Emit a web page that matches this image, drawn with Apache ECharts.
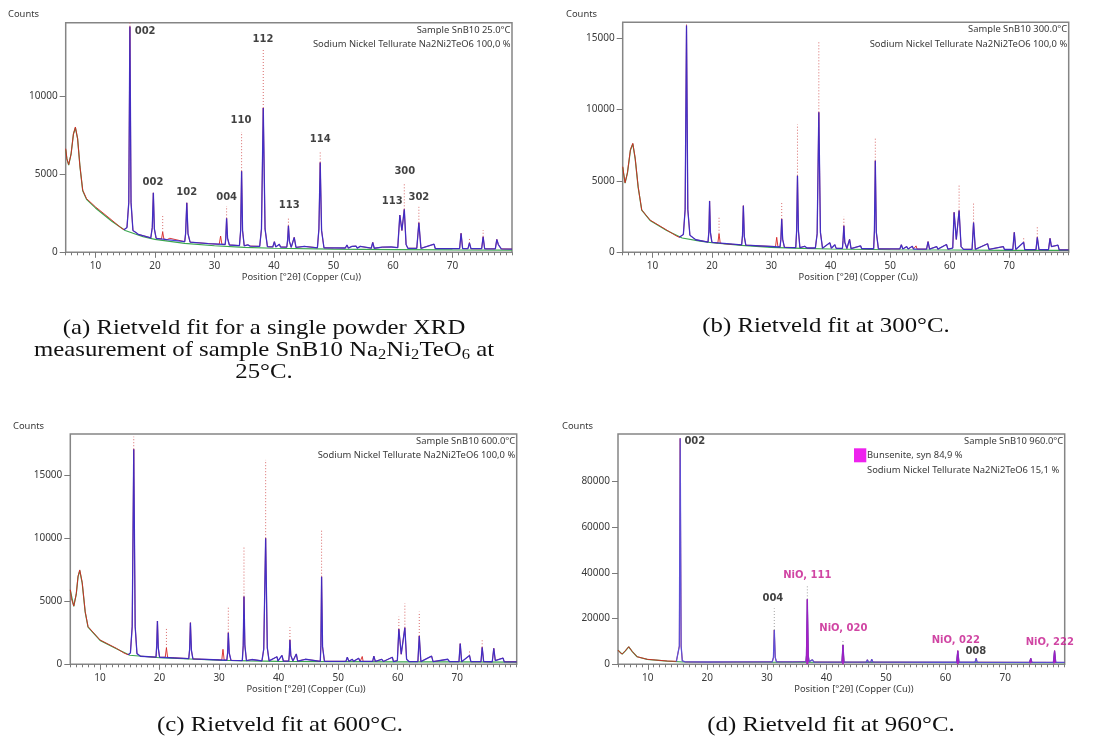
<!DOCTYPE html>
<html>
<head>
<meta charset="utf-8">
<script src="https://cdn.jsdelivr.net/npm/echarts@6/dist/echarts.min.js"></script>
<style>
html, body { margin: 0; padding: 0; background: #fff; }
#c { width: 1102px; height: 748px; }
</style>
</head>
<body>
<div id="c"></div>
<script>
// ---- axis ticks ----
const xTicks = [10, 20, 30, 40, 50, 60, 70];
const yTicksA = [0, 5000, 10000];
const yTicksB = [0, 5000, 10000, 15000];
const yTicksC = [0, 5000, 10000, 15000];
const yTicksD = [0, 20000, 40000, 60000, 80000];

// ---- (a) 25 °C ----
const bgA = [[5,6600],[5.2,6000],[5.5,5600],[5.9,6300],[6.3,7600],[6.63,8000],[7.0,7300],[7.4,5500],[7.86,3950],[8.5,3400],[10,2850],[12.75,2000],[15,1400],[18,1000],[20,830],[25,570],[30,420],[35,320],[40,260],[50,200],[60,170],[70,150],[80,140]];
const lowA = [[5,6660],[5.2,6000],[5.5,5640],[5.9,6300],[6.3,7600],[6.63,8050],[7.0,7300],[7.4,5500],[7.86,3990],[8.5,3450],[10,2920],[12.75,2070],[14.2,1600]];
const calcA = [[14.8,1450],[15.3,1600],[15.6,3200],[15.79,14500],[15.98,3200],[16.3,1400],[16.86,1250],[17.2,1150],[19.3,930],[19.55,1600],[19.73,3820],[19.9,1500],[20.2,900],[22.0,810],[25.0,680],[25.15,1200],[25.35,3180],[25.55,1200],[25.9,650],[29,560],[31.8,500],[31.9,900],[32.04,2180],[32.2,900],[32.5,470],[34.2,430],[34.4,1400],[34.56,5210],[34.72,1400],[35.0,420],[35.6,480],[36.0,400],[37.6,380],[37.9,1500],[38.2,9270],[38.5,1500],[38.9,360],[39.8,350],[40.07,680],[40.3,345],[40.9,520],[41.1,340],[42.15,330],[42.3,800],[42.43,1710],[42.6,700],[42.9,320],[43.4,960],[43.7,310],[45.1,380],[45.3,300],[47.3,290],[47.55,1500],[47.77,5770],[48.0,1400],[48.4,290],[52.0,275],[52.26,470],[52.5,272],[53.1,380],[53.3,270],[53.8,400],[54.0,268],[54.5,380],[54.7,265],[56.35,262],[56.6,640],[56.85,260],[58.2,330],[58.4,255],[59.7,340],[59.9,250],[60.8,300],[61.15,2390],[61.5,1400],[61.9,2760],[62.2,500],[62.5,260],[64.0,258],[64.35,1900],[64.7,255],[66.9,520],[67.1,245],[71.2,240],[71.44,1220],[71.7,238],[72.6,235],[72.85,600],[73.1,232],[74.9,230],[75.15,1000],[75.4,228],[77.2,225],[77.45,830],[77.7,500],[77.9,600],[78.2,220],[80,210]];
const extraA = [[21.1,860],[21.3,1300],[21.5,850],[22.3,800],[22.5,900],[22.7,790],[30.8,515],[31.03,1045],[31.25,510]];
const topsA = [[15.79,14500,14750],[21.3,1300,2330],[32.04,2180,2970],[34.56,5210,7730],[38.2,9270,13010],[42.43,1710,2180],[47.77,5770,6450],[61.9,2760,4460],[64.35,1900,2920],[72.85,600,960],[75.15,1000,1430]];
const labelsA = [[18.35,14180,'002'],[19.66,4500,'002'],[25.35,3860,'102'],[32.04,3510,'004'],[34.45,8460,'110'],[38.16,13690,'112'],[42.55,3040,'113'],[47.77,7260,'114'],[59.86,3250,'113'],[61.99,5180,'300'],[64.35,3510,'302']];

// ---- (b) 300 °C ----
const bgB = [[5,5950],[5.4,4850],[5.8,5550],[6.3,7150],[6.7,7600],[7.1,6550],[7.6,4550],[8.2,2950],[9.6,2230],[12.4,1530],[15,1000],[18,780],[20,670],[25,480],[30,350],[35,280],[40,230],[50,180],[60,160],[70,140],[80,130]];
const lowB = [[5,6000],[5.2,5400],[5.4,4880],[5.8,5600],[6.3,7200],[6.7,7640],[7.1,6600],[7.6,4600],[8.2,2970],[9.6,2260],[12.4,1560],[14.0,1150]];
const calcB = [[14.5,1050],[15.2,1250],[15.5,3000],[15.73,15900],[15.95,3000],[16.3,1200],[16.9,1000],[17.3,880],[19.35,720],[19.5,1500],[19.61,3600],[19.75,1400],[20.0,700],[25.0,520],[25.15,1200],[25.29,3270],[25.45,1100],[25.7,500],[31.45,370],[31.6,900],[31.74,2330],[31.9,900],[32.2,350],[34.1,330],[34.25,1500],[34.39,5370],[34.55,1500],[34.8,320],[35.6,420],[36,300],[37.4,300],[37.7,1300],[37.98,9810],[38.25,1400],[38.6,290],[39.83,670],[40.1,280],[40.67,530],[40.9,275],[41.95,270],[42.05,800],[42.19,1860],[42.35,700],[42.7,265],[43.15,910],[43.4,260],[45.0,450],[45.2,255],[47.2,250],[47.33,1500],[47.48,6420],[47.65,1400],[48.0,245],[51.6,235],[51.86,530],[52.1,235],[52.76,400],[53.0,232],[53.7,420],[53.9,230],[56.1,225],[56.35,750],[56.6,225],[57.8,400],[58.0,220],[59.45,550],[59.7,215],[60.5,300],[60.73,2800],[61.1,900],[61.57,2920],[61.9,400],[62.3,210],[63.75,210],[64.0,2080],[64.3,210],[66.36,600],[66.6,205],[69.0,400],[69.2,195],[70.6,195],[70.85,1400],[71.1,195],[72.43,700],[72.6,190],[74.5,185],[74.72,1050],[75.0,185],[76.6,180],[76.86,980],[77.1,400],[78.2,500],[78.4,175],[80,170]];
const extraB = [[21.0,650],[21.2,1300],[21.4,640],[22.05,600],[22.25,670],[22.45,590],[30.7,400],[30.9,1050],[31.1,390],[54.2,228],[54.33,450],[54.5,228]];
const topsB = [[15.73,15900,16100],[21.2,1300,2450],[31.74,2330,3550],[34.39,5370,8970],[37.98,9810,14760],[42.19,1860,2500],[47.48,6420,8100],[61.57,2920,4770],[64.0,2080,3550],[72.43,700,1040],[74.72,1050,1790]];

// ---- (c) 600 °C ----
const bgC = [[5,5900],[5.58,4600],[6.0,5550],[6.3,6950],[6.59,7450],[7.0,6450],[7.5,4150],[7.98,2950],[10,1900],[12.75,1240],[15,720],[20,520],[25,420],[30,320],[35,270],[40,240],[50,210],[60,195],[70,185],[80,175]];
const lowC = [[5,5930],[5.2,5200],[5.58,4630],[6.0,5600],[6.3,7000],[6.59,7500],[7.0,6500],[7.5,4200],[7.98,2990],[10,1930],[12.75,1270],[14.0,900]];
const calcC = [[14.7,760],[15.1,900],[15.4,3000],[15.66,17090],[15.9,3000],[16.2,850],[16.8,640],[19.4,570],[19.52,1500],[19.64,3440],[19.78,1300],[20.0,560],[24.9,450],[25.05,1200],[25.18,3310],[25.35,1100],[25.6,430],[31.3,320],[31.43,900],[31.55,2510],[31.7,900],[32.0,310],[33.9,295],[34.05,1500],[34.18,5380],[34.33,1500],[34.6,290],[35.5,380],[35.8,285],[37.2,275],[37.5,1200],[37.82,10020],[38.1,1300],[38.4,270],[39.72,600],[39.9,265],[40.56,700],[40.8,262],[41.7,260],[41.8,800],[41.9,1930],[42.05,700],[42.4,255],[42.97,820],[43.2,250],[44.5,400],[44.7,245],[47.0,240],[47.1,1500],[47.22,6960],[47.38,1400],[47.7,240],[51.3,235],[51.54,560],[51.8,235],[52.38,400],[52.6,233],[53.44,480],[53.7,232],[55.8,228],[56.0,650],[56.25,228],[57.34,400],[57.6,225],[59.1,560],[59.3,222],[59.95,300],[60.2,2800],[60.6,800],[61.21,2910],[61.5,400],[61.9,220],[63.4,218],[63.63,2250],[63.9,218],[65.7,650],[65.95,215],[68.43,400],[68.7,212],[70.3,210],[70.51,1640],[70.75,210],[72.07,700],[72.3,208],[74.0,206],[74.2,1350],[74.45,205],[75.9,204],[76.15,1270],[76.4,300],[77.7,500],[77.9,202],[80,200]];
const extraC = [[20.95,560],[21.15,1300],[21.35,550],[22.1,525],[22.26,640],[22.45,520],[30.45,345],[30.65,1190],[30.85,340],[53.9,231],[54.05,620],[54.2,231]];
const topsC = [[15.66,17090,18090],[21.15,1300,2810],[31.55,2510,4580],[34.18,5380,9300],[37.82,10020,16240],[41.9,1930,2940],[47.22,6960,10680],[60.2,2800,3780],[61.21,2910,4850],[63.63,2250,4180],[72.07,700,1080],[74.2,1350,1930]];

// ---- (d) 960 °C ----
const bgD = [[5,6200],[5.7,4450],[6.2,5750],[6.8,7650],[7.4,5550],[8.2,3300],[9.9,2150],[13.26,1400],[16,1000],[30,900],[50,800],[80,700]];
const lowD = [[5,6250],[5.3,5200],[5.7,4500],[6.2,5800],[6.8,7700],[7.4,5600],[8.2,3320],[9.9,2190],[13.26,1440]];
const calcD = [[14.8,1300],[15.1,1800],[15.3,8000],[15.44,98800],[15.6,8000],[15.8,1500],[16.3,1050],[20,1000],[25,1050],[30.9,1100],[31.1,3000],[31.24,15000],[31.4,3000],[31.6,1100],[34.3,1100],[36.55,1200],[36.65,4000],[36.79,28400],[36.93,4000],[37.1,1150],[37.4,1100],[37.63,2000],[37.9,1000],[42.6,950],[42.77,8440],[42.95,950],[46.7,950],[46.87,2000],[47.05,950],[47.45,950],[47.6,2200],[47.8,950],[59.5,900],[59.7,1300],[59.9,900],[61.85,900],[62.05,5950],[62.25,900],[64.95,900],[65.13,2620],[65.3,900],[74.1,850],[74.3,2600],[74.5,850],[78.1,850],[78.3,5950],[78.5,850],[80,800]];
const nioD = [
  [[36.6,1100],[36.79,28400],[36.98,1100]],
  [[42.62,950],[42.77,8440],[42.92,950]],
  [[61.88,900],[62.05,5950],[62.22,900]],
  [[74.12,850],[74.3,2600],[74.48,850]],
  [[78.12,850],[78.3,5950],[78.48,850]]
];
const topsD = [[31.24,15000,24500],[36.79,28400,34700],[42.77,8440,10900]];
const labelsD = [[17.9,97600,'002'],[31.0,28850,'004'],[36.79,38730,'NiO, 111'],[42.84,15740,'NiO, 020'],[61.71,10620,'NiO, 022'],[65.08,5810,'008'],[77.5,9620,'NiO, 222']];

// ---- texts ----
const xName = 'Position [°2θ] (Copper (Cu))';
const yName = 'Counts';
const legendA = ['Sample SnB10 25.0°C', 'Sodium Nickel Tellurate Na2Ni2TeO6 100,0 %'];
const legendB = ['Sample SnB10 300.0°C', 'Sodium Nickel Tellurate Na2Ni2TeO6 100,0 %'];
const legendC = ['Sample SnB10 600.0°C', 'Sodium Nickel Tellurate Na2Ni2TeO6 100,0 %'];
const legendD = ['Sample SnB10 960.0°C', 'Bunsenite, syn 84,9 %', 'Sodium Nickel Tellurate Na2Ni2TeO6 15,1 %'];

// ---- layout ----
const UI_FONT = 'Noto Sans';
const TXT = '#3a3a3a';
const X_MIN = 5, X_MAX = 80;
const rects = [
  { left: 65.7, top: 22.7, width: 446.3, height: 229.6 },
  { left: 622.7, top: 22.3, width: 446, height: 230 },
  { left: 70.3, top: 434, width: 446.4, height: 230.3 },
  { left: 618, top: 434, width: 446.7, height: 230.3 }
];
const panels = [
  { bg: bgA, low: lowA, calc: calcA, extra: extraA, tops: topsA, labels: labelsA, yTicks: yTicksA, yMax: 14750, legend: legendA, topsColor: '#d86a6a', calcColor: 'rgba(40,40,215,0.85)' },
  { bg: bgB, low: lowB, calc: calcB, extra: extraB, tops: topsB, labels: [], yTicks: yTicksB, yMax: 16120, legend: legendB, topsColor: '#d86a6a', calcColor: 'rgba(40,40,215,0.85)' },
  { bg: bgC, low: lowC, calc: calcC, extra: extraC, tops: topsC, labels: [], yTicks: yTicksC, yMax: 18300, legend: legendC, topsColor: '#d86a6a', calcColor: 'rgba(40,40,215,0.85)' },
  { bg: bgD, low: lowD, calc: calcD, extra: [], tops: topsD, labels: labelsD, yTicks: yTicksD, yMax: 100700, legend: legendD, nio: nioD, topsColor: '#a0a0a0', calcColor: 'rgba(80,80,230,0.9)' }
];

const minorTicks = [];
for (let v = X_MIN; v <= X_MAX; v++) minorTicks.push(v);

function mergeSorted() {
  return [].concat(...arguments).map(p => p.slice()).sort((p, q) => p[0] - q[0]);
}
function segments(tops) {
  const out = [];
  tops.forEach(([x, lo, hi]) => { out.push([x, lo], [x, hi], [x, NaN]); });
  return out;
}
function joinParts(parts) {
  const out = [];
  parts.forEach(part => { part.forEach(p => out.push(p)); out.push([part[part.length - 1][0], NaN]); });
  return out;
}

const grid = [], xAxis = [], yAxis = [], series = [], graphic = [];

panels.forEach((p, i) => {
  const r = rects[i];
  const g = 2 * i;
  grid.push(Object.assign({ show: true, borderColor: '#858585', borderWidth: 1.5 }, r));
  grid.push(Object.assign({ show: false }, r));

  xAxis.push({
    gridIndex: g, type: 'value', min: X_MIN, max: X_MAX,
    axisLine: { show: false },
    axisTick: { show: true, customValues: minorTicks, length: 3, lineStyle: { color: '#7a7a7a', width: 1 } },
    axisLabel: { customValues: xTicks, margin: 8.5, fontSize: 10, fontFamily: UI_FONT, color: TXT },
    splitLine: { show: false },
    name: xName, nameLocation: 'middle', nameGap: 21,
    nameTextStyle: { fontSize: 9.4, fontFamily: UI_FONT, color: TXT, padding: [0, 0, 0, 25] }
  });
  xAxis.push({
    gridIndex: g + 1, type: 'value', min: X_MIN, max: X_MAX,
    axisLine: { show: false },
    axisTick: { show: true, customValues: xTicks, length: 5.5, lineStyle: { color: '#7a7a7a', width: 1 } },
    axisLabel: { show: false },
    splitLine: { show: false }
  });
  yAxis.push({
    gridIndex: g, type: 'value', min: 0, max: p.yMax,
    axisLine: { show: false },
    axisTick: { show: true, customValues: p.yTicks, length: 6, lineStyle: { color: '#7a7a7a', width: 1 } },
    axisLabel: { customValues: p.yTicks, margin: 8, fontSize: 10, fontFamily: UI_FONT, color: TXT, formatter: v => String(v) },
    splitLine: { show: false }
  });
  yAxis.push({ gridIndex: g + 1, type: 'value', min: 0, max: 1, show: false });

  const common = { xAxisIndex: g, yAxisIndex: g, type: 'line', showSymbol: false, symbol: 'none', silent: true, animation: false };

  series.push(Object.assign({}, common, { data: p.bg, lineStyle: { color: '#3aa64e', width: 1.2 }, z: 2 }));
  series.push(Object.assign({}, common, { data: mergeSorted(p.low, p.calc, p.extra), lineStyle: { color: 'rgba(214,36,36,0.9)', width: 1.0 }, z: 3 }));
  series.push(Object.assign({}, common, { data: segments(p.tops), connectNulls: false, lineStyle: { color: p.topsColor, width: 1, type: [1, 2] }, z: 3 }));
  series.push(Object.assign({}, common, { data: p.calc, lineStyle: { color: p.calcColor, width: 1.3 }, z: 4 }));
  if (p.nio) {
    series.push(Object.assign({}, common, {
      data: joinParts(p.nio), connectNulls: false,
      lineStyle: { color: '#a01cc0', width: 0.8 },
      areaStyle: { color: '#b020c8', opacity: 1 }, z: 5
    }));
  }
  if (p.labels.length) {
    series.push({
      type: 'scatter', xAxisIndex: g, yAxisIndex: g, symbolSize: 0, silent: true, animation: false, z: 6,
      data: p.labels.map(([x, y, t]) => ({
        name: t, value: [x, y],
        label: { color: t.indexOf('NiO') === 0 ? '#c4168c' : '#111' }
      })),
      label: { show: true, position: 'inside', formatter: '{b}', fontFamily: 'DejaVu Sans', fontWeight: 'bold', fontSize: 10 }
    });
  }

  // y axis title
  const countsPos = [[8, 14], [566, 14], [13, 426], [562, 426]][i];
  graphic.push({ type: 'text', x: countsPos[0], y: countsPos[1], silent: true,
    style: { text: yName, fontSize: 9.4, fontFamily: UI_FONT, fill: TXT, align: 'left', verticalAlign: 'middle' } });

  // phase list in the upper right corner
  const right = r.left + r.width - 1.5;
  p.legend.forEach((line, k) => {
    const isSwatchLine = (i === 3 && k >= 1);
    graphic.push({ type: 'text', silent: true,
      x: isSwatchLine ? 867 : right,
      y: r.top + 7.2 + k * 14.5,
      style: { text: line, fontSize: 9.4, fontFamily: UI_FONT, fill: TXT, align: isSwatchLine ? 'left' : 'right', verticalAlign: 'middle' } });
  });
});

// phase swatch for Bunsenite
graphic.push({ type: 'rect', silent: true, shape: { x: 854, y: 448.3, width: 12.3, height: 14 }, style: { fill: '#ee22ee' } });

// sub-figure captions
const capFont = { fontFamily: 'Liberation Serif', fontSize: 21, fill: '#111', align: 'center', verticalAlign: 'middle' };
function caption(x, y, text, rich) {
  graphic.push({ type: 'text', silent: true, x: x, y: y, scaleX: 1.18, scaleY: 1,
    style: Object.assign({ text: text, rich: rich || undefined, lineHeight: 24 }, capFont) });
}
const subRich = { s: { fontFamily: 'Liberation Serif', fontSize: 14, lineHeight: 14, verticalAlign: 'bottom', fill: '#111' } };
caption(264, 328, '(a) Rietveld fit for a single powder XRD');
caption(264, 350, 'measurement of sample SnB10 Na{s|2}Ni{s|2}TeO{s|6} at', subRich);
caption(264, 372, '25°C.');
caption(826, 326, '(b) Rietveld fit at 300°C.');
caption(280, 725, '(c) Rietveld fit at 600°C.');
caption(831, 725, '(d) Rietveld fit at 960°C.');

const chart = echarts.init(document.getElementById('c'), null, { renderer: 'canvas' });
chart.setOption({
  animation: false,
  backgroundColor: '#ffffff',
  textStyle: { fontFamily: UI_FONT },
  grid: grid,
  xAxis: xAxis,
  yAxis: yAxis,
  series: series,
  graphic: graphic
});
</script>
</body>
</html>
